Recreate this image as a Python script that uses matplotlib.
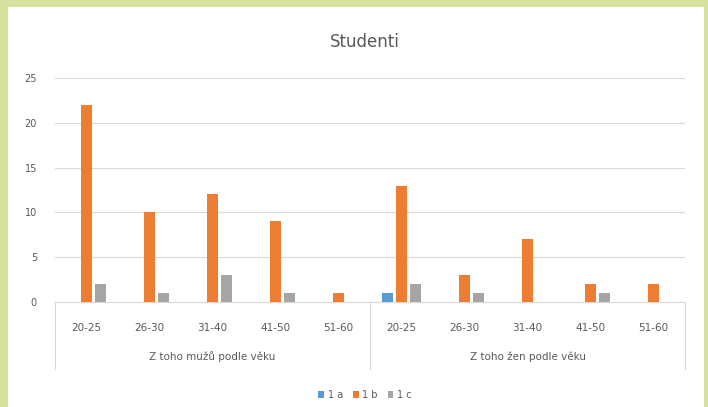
import matplotlib
matplotlib.use("Agg")
import matplotlib.pyplot as plt
import matplotlib.transforms as mtransforms
from matplotlib.patches import Rectangle
import numpy as np

age_groups = ["20-25", "26-30", "31-40", "41-50", "51-60"]
group_labels = ["Z toho mužů podle věku", "Z toho žen podle věku"]
series_names = ["1 a", "1 b", "1 c"]
s1a = [0, 0, 0, 0, 0, 1, 0, 0, 0, 0]
s1b = [22, 10, 12, 9, 1, 13, 3, 7, 2, 2]
s1c = [2, 1, 3, 1, 0, 2, 1, 0, 1, 0]
colors = ["#5B9BD5", "#ED7D31", "#A5A5A5"]

W, H = 708, 407
fig = plt.figure(figsize=(W / 100, H / 100), dpi=100)
fig.patch.set_facecolor("#d6e09f")
fig.patches.append(Rectangle((8 / W, 0), (704 - 8) / W, (H - 7) / H,
                             transform=fig.transFigure, facecolor="white",
                             edgecolor="none", zorder=-10))

ax = fig.add_axes([55 / W, 1 - 302 / H, (685 - 55) / W, (302 - 78) / H])
ax.set_facecolor("none")
x = np.arange(10)
off = 0.22
wdt = 0.17
for i, (vals, col) in enumerate(zip([s1a, s1b, s1c], colors)):
    v = np.array(vals, dtype=float)
    mask = v > 0
    ax.bar(x[mask] + (i - 1) * off, v[mask], width=wdt, color=col,
           label=series_names[i], zorder=3)

ax.set_xlim(-0.5, 9.5)
ax.set_ylim(0, 25)
ax.set_yticks([0, 5, 10, 15, 20, 25])
ax.grid(axis="y", color="#d9d9d9", linewidth=0.8, zorder=0)
for s in ["top", "right", "left"]:
    ax.spines[s].set_visible(False)
ax.spines["bottom"].set_color("#d9d9d9")
ax.tick_params(axis="y", length=0, labelsize=7, colors="#595959", pad=13)
ax.tick_params(axis="x", length=0, labelsize=7.5, colors="#595959", pad=15)
ax.set_xticks(x)
ax.set_xticklabels(age_groups * 2)

trans = mtransforms.blended_transform_factory(ax.transData, ax.transAxes)
for xv in [-0.5, 4.5, 9.5]:
    ax.plot([xv, xv], [0, -0.30], transform=trans, color="#d9d9d9",
            linewidth=0.8, clip_on=False)
for gi, gl in enumerate(group_labels):
    ax.text(2 + 5 * gi, -0.245, gl, transform=trans, ha="center", va="center",
            fontsize=7.5, color="#595959")

fig.text(365 / W, 1 - 42 / H, "Studenti", ha="center", va="center",
         fontsize=12, color="#595959")

leg = fig.legend(loc="center", bbox_to_anchor=(365 / W, 1 - 395 / H), ncol=3,
                 frameon=False, fontsize=7, handlelength=0.6, handleheight=0.6,
                 columnspacing=1.0, handletextpad=0.4)
for t in leg.get_texts():
    t.set_color("#595959")

fig.savefig("out.png", dpi=100, facecolor=fig.get_facecolor())
